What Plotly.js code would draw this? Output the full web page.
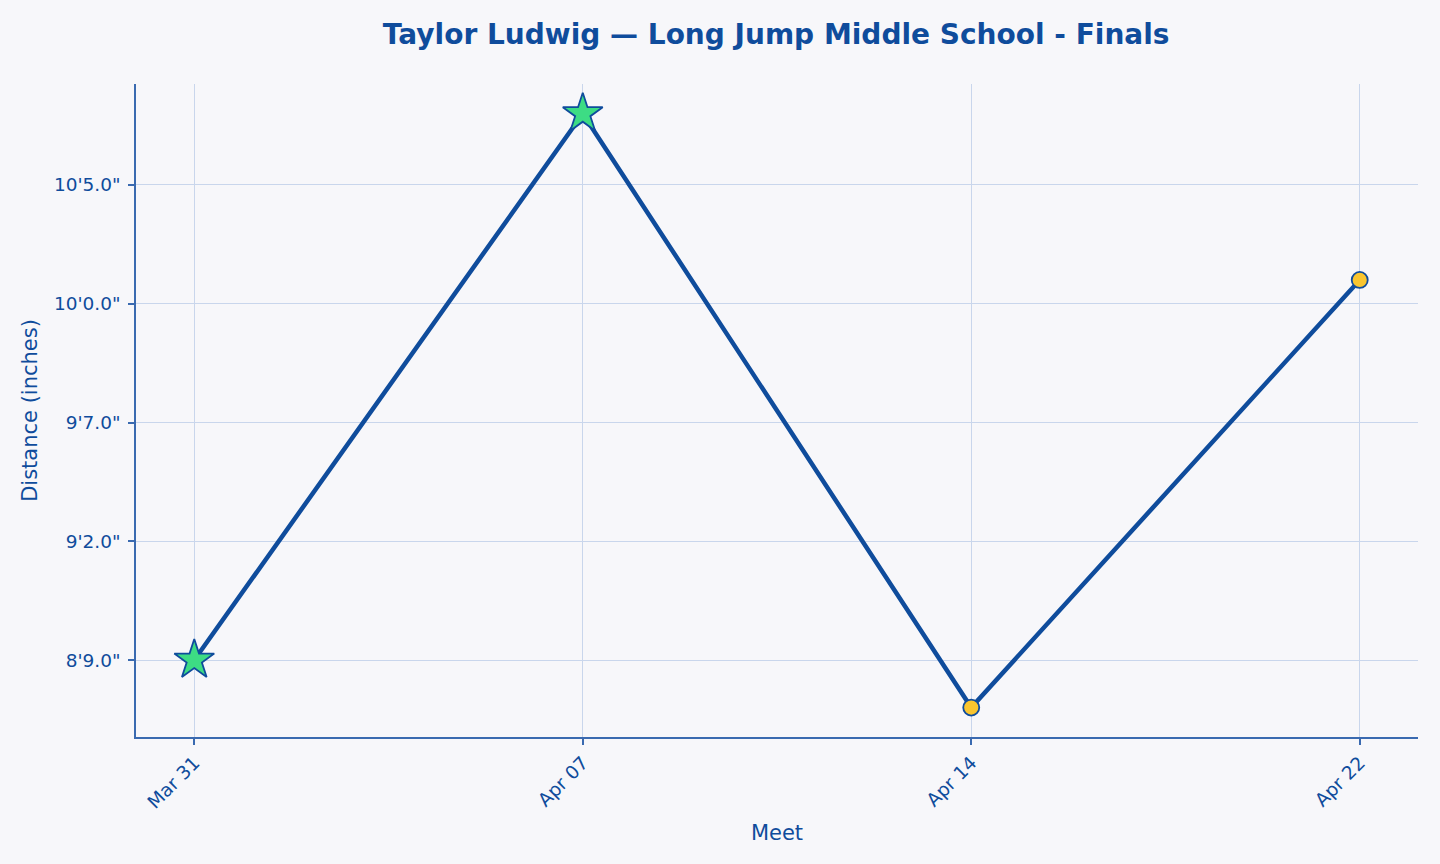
<!DOCTYPE html>
<html>
<head>
<meta charset="utf-8">
<script src="https://cdn.plot.ly/plotly-3.0.1.min.js"></script>
<style>
  html, body {margin: 0; padding: 0; background: #f7f7fa;}
  #graph {width: 1440px; height: 864px;}
</style>
</head>
<body>
<div id="graph"></div>
<script>
//meet dates and jump distances (inches)
const meets = ['Mar 31', 'Apr 07', 'Apr 14', 'Apr 22']
const distances = [105, 128, 103, 121]
const isPB = [true, true, false, false]

//y tick values and labels (feet'inches")
const yTickVals = [105, 110, 115, 120, 125]
const yTickText = yTickVals.map(v => `${Math.floor(v / 12)}'${(v % 12).toFixed(1)}"`)

const navy = '#0f4c9c'

//main line
const line = {
  x: meets,
  y: distances,
  type: 'scatter',
  mode: 'lines',
  line: {color: navy, width: 4.5},
  hoverinfo: 'skip',
  showlegend: false
}

//personal best stars
const stars = {
  x: meets.filter((m, i) => isPB[i]),
  y: distances.filter((d, i) => isPB[i]),
  type: 'scatter',
  mode: 'markers',
  marker: {symbol: 'star', size: 30, color: '#3ddc84', line: {color: navy, width: 1.8}},
  showlegend: false
}

//other results
const dots = {
  x: meets.filter((m, i) => !isPB[i]),
  y: distances.filter((d, i) => !isPB[i]),
  type: 'scatter',
  mode: 'markers',
  marker: {symbol: 'circle', size: 16, color: '#f9c52f', line: {color: navy, width: 1.8}},
  showlegend: false
}

const layout = {
  width: 1440,
  height: 864,
  paper_bgcolor: '#f7f7fa',
  plot_bgcolor: '#f7f7fa',
  font: {family: 'DejaVu Sans', color: navy},
  title: {
    text: '<b>Taylor Ludwig — Long Jump Middle School - Finals</b>',
    font: {size: 28, color: navy},
    x: 0.539,
    xanchor: 'center',
    y: 0.96,
    yanchor: 'middle'
  },
  margin: {t: 84, l: 136, r: 22, b: 127, pad: 0},
  xaxis: {
    type: 'category',
    range: [-0.15, 3.15],
    title: {text: 'Meet', font: {size: 21, color: navy}, standoff: 14},
    tickangle: -45,
    tickfont: {size: 18.5, color: navy},
    ticks: 'outside',
    ticklen: 6,
    tickwidth: 1.5,
    tickcolor: '#3a6ab0',
    showline: true,
    linecolor: '#3a6ab0',
    linewidth: 1.6,
    showgrid: true,
    gridcolor: '#c9d6ec',
    gridwidth: 1,
    zeroline: false
  },
  yaxis: {
    range: [101.76, 129.25],
    tickvals: yTickVals,
    ticktext: yTickText,
    title: {text: 'Distance (inches)', font: {size: 21, color: navy}, standoff: 11},
    tickfont: {size: 18.5, color: navy},
    ticks: 'outside',
    ticklen: 6,
    tickwidth: 1.5,
    tickcolor: '#3a6ab0',
    ticklabelstandoff: 4,
    showline: true,
    linecolor: '#3a6ab0',
    linewidth: 1.6,
    showgrid: true,
    gridcolor: '#c9d6ec',
    gridwidth: 1,
    zeroline: false
  }
}

const config = {displayModeBar: false, responsive: false}

Plotly.newPlot(document.getElementById('graph'), [line, stars, dots], layout, config)
</script>
</body>
</html>
